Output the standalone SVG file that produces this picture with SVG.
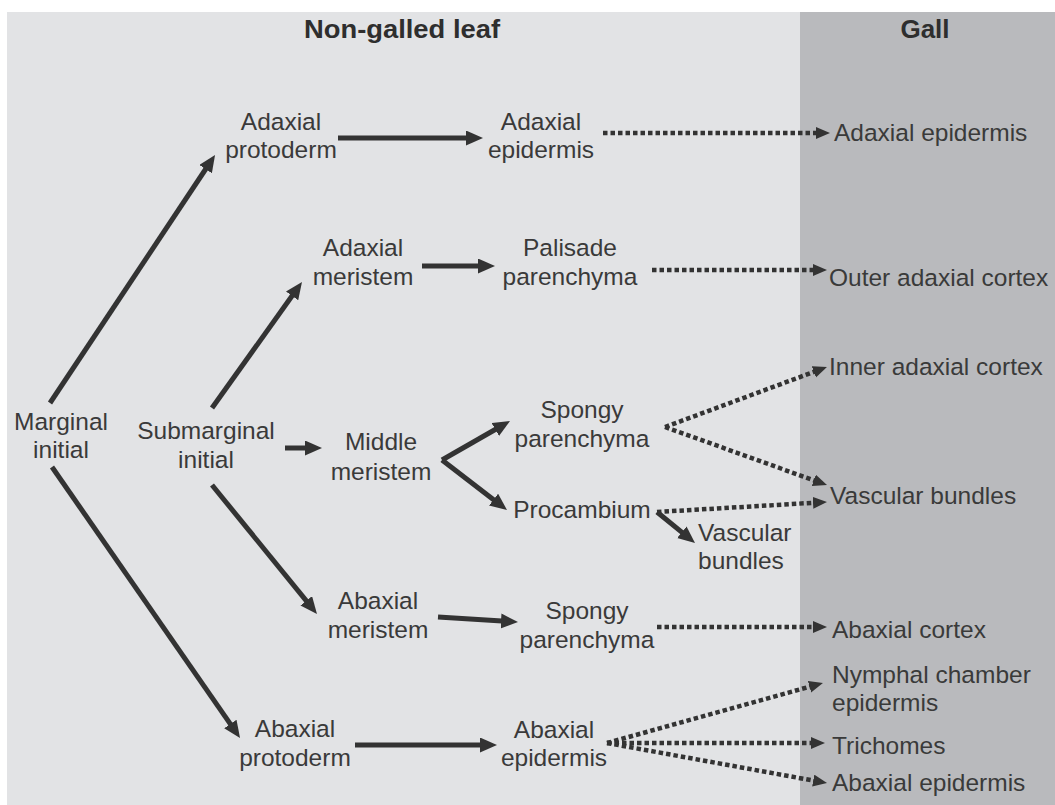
<svg xmlns="http://www.w3.org/2000/svg" width="1055" height="805" viewBox="0 0 1055 805">
<defs>
<style>
.t{font-family:"Liberation Sans",Arial,sans-serif;font-size:24.5px;fill:#3a3a3a}
.c{text-anchor:middle}
.h{font-family:"Liberation Sans",Arial,sans-serif;font-size:26px;font-weight:bold;fill:#2e2e2e;text-anchor:middle}
.s{stroke:#333;stroke-width:5;fill:none;marker-end:url(#ah)}
.d{stroke:#333;stroke-width:4.5;fill:none;stroke-dasharray:4.5 3;marker-end:url(#ad)}
</style>
<marker id="ah" markerUnits="userSpaceOnUse" markerWidth="19" markerHeight="17" refX="5" refY="7.5" orient="auto">
<path d="M0,0 L17,7.5 L0,15 z" fill="#333"/>
</marker>
<marker id="ad" markerUnits="userSpaceOnUse" markerWidth="16" markerHeight="14" refX="2" refY="6" orient="auto">
<path d="M0,0 L14,6 L0,12 z" fill="#333"/>
</marker>
</defs>
<rect x="0" y="0" width="1055" height="805" fill="#ffffff"/>
<rect x="7" y="12" width="794" height="793" fill="#e2e3e5"/>
<rect x="800" y="12" width="255" height="793" fill="#b9babd"/>
<text class="h" x="402" y="38" textLength="196" lengthAdjust="spacingAndGlyphs">Non-galled leaf</text>
<text class="h" x="925" y="38">Gall</text>

<g id="connectors">
<line class="s" x1="50" y1="403" x2="208.4" y2="165"/>
<line class="s" x1="52" y1="467" x2="233.2" y2="728.1"/>
<line class="s" x1="338" y1="138" x2="471" y2="138"/>
<line class="s" x1="212" y1="408" x2="295" y2="291.8"/>
<line class="s" x1="422" y1="266" x2="483" y2="266"/>
<line class="s" x1="285" y1="448" x2="310" y2="448"/>
<line class="s" x1="442" y1="460" x2="499.6" y2="427"/>
<line class="s" x1="442" y1="460" x2="497.5" y2="502.7"/>
<line class="s" x1="657" y1="512" x2="685.7" y2="535.4"/>
<line class="s" x1="212" y1="485" x2="309.4" y2="604.7"/>
<line class="s" x1="438" y1="617" x2="506" y2="621.3"/>
<line class="s" x1="355" y1="745" x2="485" y2="745"/>
<line class="d" x1="603" y1="133" x2="818" y2="133"/>
<line class="d" x1="652" y1="270" x2="815" y2="270"/>
<line class="d" x1="665" y1="427" x2="815.7" y2="371.2"/>
<line class="d" x1="665" y1="427" x2="815.7" y2="481"/>
<line class="d" x1="657" y1="512" x2="815" y2="502.7"/>
<line class="d" x1="657" y1="627" x2="815" y2="627"/>
<line class="d" x1="607" y1="743" x2="811.4" y2="686.2"/>
<line class="d" x1="607" y1="743" x2="813" y2="743"/>
<line class="d" x1="607" y1="743" x2="815.2" y2="780.9"/>
</g>

<g id="marginal-initial"><text class="t c" x="61" y="430">Marginal</text><text class="t c" x="61" y="458">initial</text></g>
<g id="submarginal-initial"><text class="t c" x="206" y="439">Submarginal</text><text class="t c" x="206" y="468">initial</text></g>
<g id="adaxial-protoderm"><text class="t c" x="281" y="130">Adaxial</text><text class="t c" x="281" y="158">protoderm</text></g>
<g id="adaxial-epidermis"><text class="t c" x="541" y="130">Adaxial</text><text class="t c" x="541" y="158">epidermis</text></g>
<g id="adaxial-meristem"><text class="t c" x="363" y="256">Adaxial</text><text class="t c" x="363" y="285">meristem</text></g>
<g id="palisade-parenchyma"><text class="t c" x="570" y="256">Palisade</text><text class="t c" x="570" y="285">parenchyma</text></g>
<g id="middle-meristem"><text class="t c" x="381" y="450">Middle</text><text class="t c" x="381" y="480">meristem</text></g>
<g id="spongy-parenchyma-1"><text class="t c" x="582" y="418">Spongy</text><text class="t c" x="582" y="447">parenchyma</text></g>
<g id="procambium"><text class="t c" x="582" y="518">Procambium</text></g>
<g id="vascular-bundles-leaf"><text class="t" x="698" y="541">Vascular</text><text class="t" x="698" y="569">bundles</text></g>
<g id="abaxial-meristem"><text class="t c" x="378" y="609">Abaxial</text><text class="t c" x="378" y="638">meristem</text></g>
<g id="spongy-parenchyma-2"><text class="t c" x="587" y="619">Spongy</text><text class="t c" x="587" y="648">parenchyma</text></g>
<g id="abaxial-protoderm"><text class="t c" x="295" y="737">Abaxial</text><text class="t c" x="295" y="766">protoderm</text></g>
<g id="abaxial-epidermis"><text class="t c" x="554" y="738">Abaxial</text><text class="t c" x="554" y="766">epidermis</text></g>

<g id="gall-adaxial-epidermis"><text class="t" x="834" y="141">Adaxial epidermis</text></g>
<g id="gall-outer-adaxial-cortex"><text class="t" x="829" y="286">Outer adaxial cortex</text></g>
<g id="gall-inner-adaxial-cortex"><text class="t" x="829" y="375">Inner adaxial cortex</text></g>
<g id="gall-vascular-bundles"><text class="t" x="830" y="504">Vascular bundles</text></g>
<g id="gall-abaxial-cortex"><text class="t" x="832" y="638">Abaxial cortex</text></g>
<g id="gall-nymphal-chamber"><text class="t" x="832" y="683">Nymphal chamber</text><text class="t" x="832" y="711">epidermis</text></g>
<g id="gall-trichomes"><text class="t" x="832" y="754">Trichomes</text></g>
<g id="gall-abaxial-epidermis"><text class="t" x="832" y="791">Abaxial epidermis</text></g>
</svg>
